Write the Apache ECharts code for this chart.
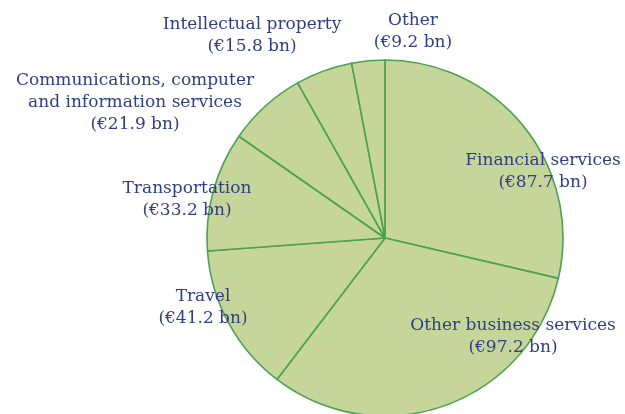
<!DOCTYPE html>
<html>
<head>
<meta charset="utf-8">
<script src="https://cdn.jsdelivr.net/npm/echarts@6/dist/echarts.min.js"></script>
<style>
  html, body { margin: 0; padding: 0; background: #fff; }
  #chart { width: 625px; height: 414px; }
</style>
</head>
<body>
<div id="chart"></div>
<script>
// trade in services, € bn (clockwise from 12 o'clock)
var categories = [
  "Financial services",
  "Other business services",
  "Travel",
  "Transportation",
  "Communications, computer\nand information services",
  "Intellectual property",
  "Other"
];
var values = [87.7, 97.2, 41.2, 33.2, 21.9, 15.8, 9.2];

// where each label sits (label centre, px)
var labelPos = [
  [543, 172],
  [513, 337],
  [203, 308],
  [187, 200],
  [135, 103],
  [252, 36],
  [413, 32]
];

var pieData = categories.map(function (name, i) {
  return { name: name, value: values[i] };
});

var chart = echarts.init(document.getElementById("chart"));
chart.setOption({
  animation: false,
  series: [
    {
      type: "pie",
      center: [385, 238],
      radius: 178,
      startAngle: 90,
      clockwise: true,
      data: pieData,
      itemStyle: {
        color: "#c6d69b",
        borderColor: "#4ca24e",
        borderWidth: 1.6
      },
      emphasis: { disabled: true },
      label: {
        show: true,
        position: "inside",
        color: "#2f3f82",
        fontFamily: "DejaVu Serif",
        fontSize: 17,
        lineHeight: 22,
        align: "center",
        formatter: function (p) {
          return p.name + "\n(€" + p.value.toFixed(1) + " bn)";
        }
      },
      labelLine: { show: false },
      labelLayout: function (p) {
        var pos = labelPos[p.dataIndex];
        return { x: pos[0], y: pos[1], align: "center", verticalAlign: "middle" };
      }
    }
  ]
});
</script>
</body>
</html>
